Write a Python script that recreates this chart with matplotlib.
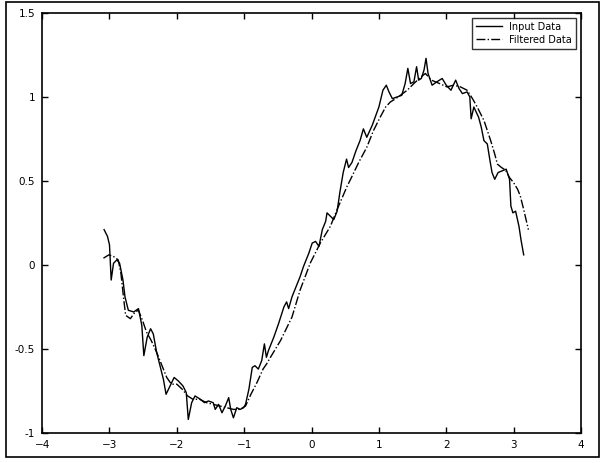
import matplotlib
matplotlib.use("Agg")
import matplotlib.pyplot as plt
from matplotlib.patches import Rectangle

# noisy input signal
input_x = [-3.08, -3.03, -3.00, -2.975, -2.94, -2.89, -2.85, -2.80, -2.77, -2.72,
           -2.64, -2.57, -2.52, -2.49, -2.44, -2.39, -2.35, -2.30, -2.25, -2.20,
           -2.16, -2.10, -2.04, -1.98, -1.91, -1.86, -1.83, -1.78, -1.73, -1.65,
           -1.59, -1.53, -1.46, -1.43, -1.38, -1.33, -1.28, -1.23, -1.20, -1.16,
           -1.11, -1.06, -1.01, -0.98, -0.93, -0.88, -0.84, -0.79, -0.74, -0.70,
           -0.67, -0.64, -0.56, -0.49, -0.41, -0.37, -0.34, -0.29, -0.23, -0.17,
           -0.12, -0.04, 0.01, 0.06, 0.11, 0.16, 0.21, 0.23, 0.28, 0.33,
           0.38, 0.42, 0.47, 0.52, 0.55, 0.60, 0.66, 0.72, 0.77, 0.82,
           0.90, 1.00, 1.06, 1.11, 1.15, 1.20, 1.27, 1.34, 1.39, 1.43,
           1.47, 1.52, 1.56, 1.59, 1.63, 1.67, 1.70, 1.73, 1.79, 1.86,
           1.94, 2.00, 2.07, 2.14, 2.19, 2.24, 2.31, 2.35, 2.37, 2.41,
           2.48, 2.52, 2.56, 2.61, 2.65, 2.68, 2.72, 2.77, 2.83, 2.89,
           2.94, 2.96, 2.99, 3.03, 3.08, 3.11, 3.15]
input_y = [0.21, 0.17, 0.12, -0.09, 0.01, 0.03, 0.01, -0.09, -0.19, -0.27,
           -0.28, -0.26, -0.36, -0.54, -0.43, -0.38, -0.41, -0.52, -0.60, -0.68,
           -0.77, -0.72, -0.67, -0.69, -0.72, -0.76, -0.92, -0.82, -0.78, -0.80,
           -0.82, -0.81, -0.82, -0.86, -0.83, -0.88, -0.84, -0.79, -0.86, -0.91,
           -0.85, -0.86, -0.85, -0.83, -0.74, -0.61, -0.60, -0.62, -0.57, -0.47,
           -0.55, -0.51, -0.43, -0.35, -0.25, -0.22, -0.26, -0.19, -0.13, -0.07,
           -0.01, 0.07, 0.13, 0.14, 0.11, 0.21, 0.26, 0.31, 0.29, 0.27,
           0.32, 0.43, 0.55, 0.63, 0.58, 0.61, 0.68, 0.74, 0.81, 0.76,
           0.83, 0.94, 1.04, 1.07, 1.03, 0.99, 1.00, 1.01, 1.08, 1.17,
           1.08, 1.09, 1.18, 1.10, 1.11, 1.16, 1.23, 1.14, 1.07, 1.09,
           1.11, 1.07, 1.04, 1.10, 1.05, 1.02, 1.03, 1.00, 0.87, 0.94,
           0.88, 0.82, 0.74, 0.72, 0.62, 0.55, 0.51, 0.55, 0.56, 0.57,
           0.51, 0.35, 0.31, 0.32, 0.23, 0.15, 0.06]

# smoothed output of the filter
filt_x = [-3.09, -3.01, -2.94, -2.87, -2.83, -2.79, -2.76, -2.69, -2.62, -2.57,
          -2.51, -2.45, -2.38, -2.30, -2.22, -2.15, -2.08, -2.00, -1.92, -1.84,
          -1.76, -1.66, -1.56, -1.46, -1.36, -1.26, -1.16, -1.06, -0.98, -0.90,
          -0.81, -0.72, -0.66, -0.61, -0.46, -0.29, -0.17, -0.02, 0.13, 0.28,
          0.38, 0.53, 0.58, 0.70, 0.82, 0.92, 1.02, 1.10, 1.17, 1.25,
          1.32, 1.42, 1.52, 1.60, 1.69, 1.78, 1.90, 2.01, 2.11, 2.21,
          2.31, 2.39, 2.46, 2.56, 2.66, 2.72, 2.76, 2.82, 2.88, 2.94,
          3.00, 3.06, 3.10, 3.15, 3.22]
filt_y = [0.04, 0.06, 0.05, 0.03, -0.05, -0.20, -0.30, -0.32, -0.28, -0.27,
          -0.33, -0.40, -0.45, -0.52, -0.60, -0.67, -0.71, -0.71, -0.74, -0.78,
          -0.80, -0.80, -0.82, -0.83, -0.84, -0.85, -0.86, -0.86, -0.84, -0.77,
          -0.70, -0.62, -0.585, -0.55, -0.45, -0.31, -0.15, 0.01, 0.13, 0.23,
          0.33, 0.47, 0.51, 0.61, 0.70, 0.80, 0.88, 0.94, 0.97, 0.99,
          1.01, 1.04, 1.08, 1.11, 1.14, 1.10, 1.08, 1.06, 1.07, 1.06,
          1.04, 0.99, 0.94, 0.86, 0.74, 0.66, 0.60, 0.58, 0.565, 0.52,
          0.49, 0.45, 0.41, 0.33, 0.21]

x_ticks = [-4, -3, -2, -1, 0, 1, 2, 3, 4]
y_ticks = [-1, -0.5, 0, 0.5, 1, 1.5]
y_tick_labels = ["-1", "-0.5", "0", "0.5", "1", "1.5"]

fig = plt.figure(figsize=(6.02, 4.63), dpi=100)
ax = fig.add_axes([0.070, 0.065, 0.895, 0.907])

ax.plot(input_x, input_y, color="black", lw=1.0, ls="-", label="Input Data")
ax.plot(filt_x, filt_y, color="black", lw=1.0, ls="-.", label="Filtered Data")

ax.set_xlim(-4, 4)
ax.set_ylim(-1, 1.5)
ax.set_xticks(x_ticks)
ax.set_yticks(y_ticks)
ax.set_yticklabels(y_tick_labels)
ax.tick_params(direction="in", top=True, right=True, length=4, width=1,
               labelsize=7.5, pad=5)
for s in ax.spines.values():
    s.set_linewidth(1.2)

leg = ax.legend(loc="upper right", fontsize=7, frameon=True, fancybox=False,
                borderaxespad=0.5, handlelength=2.6, borderpad=0.4,
                labelspacing=0.3)
leg.get_frame().set_edgecolor("black")
leg.get_frame().set_linewidth(1.0)

# border of the printed figure
fig.patches.append(Rectangle((0.01, 0.012), 0.985, 0.984, transform=fig.transFigure,
                             fill=False, edgecolor="black", lw=1.2))

fig.savefig("out.png", dpi=100)
